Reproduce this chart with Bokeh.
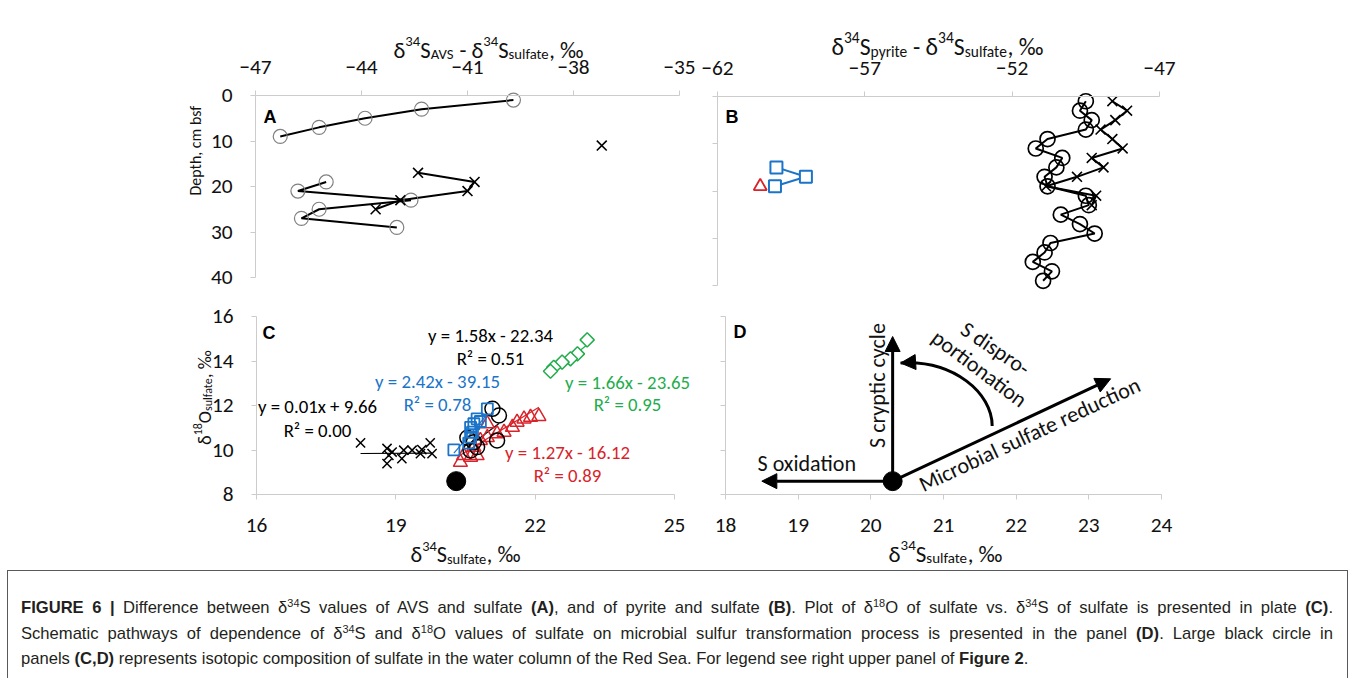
import glob, math, os, struct
from bokeh.embed import file_html
from bokeh.layouts import column, row
from bokeh.models import Arrow, Div, FixedTicker, Label, NormalHead, Range1d
from bokeh.plotting import figure
from bokeh.resources import INLINE

NAN = float("nan")

# ---------------- data ----------------
# Panel A : d34S(AVS) - d34S(sulfate) vs depth
a_circle_depth = [1, 3, 5, 7, 9, 11, 13, 15, 17, 19, 21, 23, 25, 27, 29]
a_circle_diff = [-39.7, -42.3, -43.9, -45.2, -46.3, NAN, NAN, NAN, NAN,
                 -45.0, -45.8, -42.6, -45.2, -45.7, -43.0]
a_cross_depth = [11, 13, 15, 17, 19, 21, 23, 25]
a_cross_diff = [-37.2, NAN, NAN, -42.4, -40.8, -41.0, -42.9, -43.6]

# Panel B : d34S(pyrite) - d34S(sulfate) vs depth
b_circle_depth = [1, 3, 5, 7, 9, 11, 13, 15, 17, 19, 21, 23, 25, 27, 29, 31, 33, 35, 37, 39]
b_circle_diff = [-49.5, -49.7, -49.3, -49.5, -50.8, -51.2, -50.3, -50.5, -50.9, -50.8,
                 -49.5, -49.4, -50.35, -49.7, -49.2, -50.7, -50.9, -51.3, -50.65, -50.95]
b_cross_depth = [1, 3, 5, 7, 9, 11, 13, 15, 17, 19, 21, 23]
b_cross_diff = [-48.6, -48.1, -48.5, -49.0, -48.6, -48.25, -49.3, -48.9, -49.8, -50.85, -49.15, -49.3]
b_square_depth = [15, 17, 19]
b_square_diff = [-60.0, -59.0, -60.05]
b_triangle_depth = [19]
b_triangle_diff = [-60.55]

# Panel C : d18O(sulfate) vs d34S(sulfate)
c_cross_s = [18.24, 18.81, 18.85, 18.81, 18.92, 19.17, 19.13, 19.35, 19.56, 19.53, 19.74, 19.78]
c_cross_o = [10.32, 10.07, 9.76, 9.39, 9.91, 9.99, 9.61, 9.99, 10.02, 9.84, 10.32, 9.84]
c_circle_s = [21.08, 21.22, 21.18, 20.54, 20.68, 20.75, 20.61]
c_circle_o = [11.85, 11.55, 10.43, 10.55, 10.35, 10.13, 9.98]
c_square_s = [20.97, 20.75, 20.68, 20.61, 20.65, 20.61, 20.25, 20.57, 20.82]
c_square_o = [11.85, 11.40, 11.18, 11.02, 10.80, 10.58, 10.01, 10.31, 11.28]
c_triangle_s = [22.08, 21.90, 21.76, 21.61, 21.51, 21.33, 21.18, 20.97, 20.82, 20.68,
                20.75, 20.61, 20.39, 20.46, 20.97]
c_triangle_o = [11.51, 11.47, 11.40, 11.25, 11.02, 10.80, 10.73, 11.18, 10.43, 10.13,
                9.75, 9.68, 9.45, 9.75, 10.56]
c_diamond_s = [23.12, 22.91, 22.76, 22.58, 22.40, 22.33]
c_diamond_o = [14.95, 14.32, 14.10, 13.95, 13.72, 13.54]
seawater_s = [20.3]
seawater_o = [8.6]

# linear fits shown in panel C (cross, circle, square, triangle, diamond)
fit_slope = [0.01, 1.58, 2.42, 1.27, 1.66]
fit_icpt = [9.66, -22.34, -39.15, -16.12, -23.65]
fit_r2 = [0.00, 0.51, 0.78, 0.89, 0.95]

# Panel D : schematic pathways (d34S, d18O)
d_origin = (20.3, 8.6)
d_oxidation_tip = (18.5, 8.6)
d_cryptic_tip = (20.3, 15.1)
d_msr_tip = (23.3, 13.2)
d_disp_curve = dict(x0=21.67, y0=11.08, cx0=21.67, cy0=12.56, cx1=21.14, cy1=14.06, x1=20.41, y1=13.91)

# axis extents and ticks
a_xlim, b_xlim, depth_lim = (-47, -35), (-62, -47), (0, 40)
c_xlim, d_xlim, o_lim = (16, 25), (18, 24), (8, 16)
a_xticks = [-47, -44, -41, -38, -35]
b_xticks = [-62, -57, -52, -47]
depth_ticks = [0, 10, 20, 30, 40]
c_xticks = [16, 19, 22, 25]
o_ticks = [8, 10, 12, 14, 16]
d_xticks = [18, 19, 20, 21, 22, 23, 24]

caption_lines = [
    '<b>FIGURE 6 |</b> Difference between &delta;<sup>34</sup>S values of AVS and sulfate <b>(A)</b>, '
    'and of pyrite and sulfate <b>(B)</b>. Plot of &delta;<sup>18</sup>O of sulfate vs. &delta;<sup>34</sup>S '
    'of sulfate is presented in plate <b>(C)</b>.',
    'Schematic pathways of dependence of &delta;<sup>34</sup>S and &delta;<sup>18</sup>O values of sulfate on '
    'microbial sulfur transformation process is presented in the panel <b>(D)</b>. Large black circle in',
    'panels <b>(C,D)</b> represents isotopic composition of sulfate in the water column of the Red Sea. '
    'For legend see right upper panel of <b>Figure 2</b>.',
]

# ---------------- fonts & metrics ----------------
def _find(patterns):
    dirs = ["/usr/share/fonts", "/usr/local/share/fonts",
            os.path.expanduser("~/.fonts"), os.path.expanduser("~/.local/share/fonts")]
    for pat in patterns:
        for d in dirs:
            hits = glob.glob(os.path.join(d, "**", pat), recursive=True)
            if hits:
                return sorted(hits)[0]
    return None


def _ttf(path):
    data = open(path, "rb").read()
    off0 = struct.unpack(">I", data[12:16])[0] if data[:4] == b"ttcf" else 0
    num = struct.unpack(">H", data[off0 + 4:off0 + 6])[0]
    tables = {}
    for i in range(num):
        rec = off0 + 12 + 16 * i
        tag, _, off, _ln = struct.unpack(">4sIII", data[rec:rec + 16])
        tables[tag] = off
    head = tables[b"head"]
    upem = struct.unpack(">H", data[head + 18:head + 20])[0]
    hhea = tables[b"hhea"]
    nhm = struct.unpack(">H", data[hhea + 34:hhea + 36])[0]
    hmtx = tables[b"hmtx"]
    adv = [struct.unpack(">H", data[hmtx + 4 * i:hmtx + 4 * i + 2])[0] for i in range(nhm)]
    cm = tables[b"cmap"]
    nsub = struct.unpack(">H", data[cm + 2:cm + 4])[0]
    cmap = {}
    for i in range(nsub):
        _pid, _eid, so = struct.unpack(">HHI", data[cm + 4 + 8 * i:cm + 12 + 8 * i])
        sub = cm + so
        if struct.unpack(">H", data[sub:sub + 2])[0] != 4:
            continue
        segx2 = struct.unpack(">H", data[sub + 6:sub + 8])[0]
        seg = segx2 // 2
        ends = struct.unpack(">%dH" % seg, data[sub + 14:sub + 14 + segx2])
        starts = struct.unpack(">%dH" % seg, data[sub + 16 + segx2:sub + 16 + 2 * segx2])
        deltas = struct.unpack(">%dh" % seg, data[sub + 16 + 2 * segx2:sub + 16 + 3 * segx2])
        ro_pos = sub + 16 + 3 * segx2
        ros = struct.unpack(">%dH" % seg, data[ro_pos:ro_pos + segx2])
        for s in range(seg):
            if starts[s] == 0xFFFF:
                continue
            for c in range(starts[s], min(ends[s], 0x3000) + 1):
                if ros[s] == 0:
                    g = (c + deltas[s]) & 0xFFFF
                else:
                    gp = ro_pos + 2 * s + ros[s] + 2 * (c - starts[s])
                    g = struct.unpack(">H", data[gp:gp + 2])[0]
                    if g:
                        g = (g + deltas[s]) & 0xFFFF
                cmap.setdefault(c, g)
        break
    return upem, adv, cmap


FONT = "Lato"
METRICS = None
for fam, pats in [("Carlito", ["Carlito-Regular.ttf"]),
                  ("Lato", ["Lato-Regular.ttf", "Lato-Reg*.ttf"]),
                  ("Open Sans", ["OpenSans-Regular.ttf", "OpenSans*.ttf"])]:
    fp = _find(pats)
    if fp:
        try:
            METRICS = _ttf(fp)
            FONT = fam
            break
        except Exception:
            METRICS = None


def tw(text, size):
    if METRICS is None:
        return 0.52 * size * len(text)
    upem, adv, cmap = METRICS
    tot = 0
    for ch in text:
        g = cmap.get(ord(ch))
        tot += adv[min(g, len(adv) - 1)] if g is not None else 0.55 * upem
    return tot / upem * size


def fit_size(text, target):
    return target / tw(text, 1.0)


SMALL = 0.65
TICK_PX = 0.5 * (fit_size("16", 21) + fit_size("-44", 29))
ANN_PX = fit_size("y = 1.58x - 22.34", 125)
D_PX = fit_size("Microbial sulfate reduction", 243)

AX = "#cccccc"
TXT = "#111111"
BLUE = "#1b74c8"
RED = "#d8232a"
GREEN = "#22ad4c"
GRAY = "#808080"


class Frame:
    """linear map from page pixels to the data units of one panel"""
    def __init__(s, left, top, w, h, x0, x1, ytop, ybot):
        s.left, s.top, s.w, s.h = left, top, w, h
        s.x0, s.x1, s.ytop, s.ybot = x0, x1, ytop, ybot

    def x(s, px):
        return s.x0 + (px - s.left) / s.w * (s.x1 - s.x0)

    def y(s, py):
        return s.ytop + (py - s.top) / s.h * (s.ybot - s.ytop)


def panel(cx0, cx1, cy0, cy1, m, xloc, xlim, ylim, xticks, yticks, ylabels=True,
          xstand=17, ystand=18):
    """figure whose plotting area is the whole canvas; axes are pinned at the data edges"""
    p = figure(width=cx1 - cx0, height=cy1 - cy0,
               x_range=Range1d(m.x(cx0), m.x(cx1)), y_range=Range1d(m.y(cy1), m.y(cy0)),
               output_backend="svg", toolbar_location=None, x_axis_location=xloc, title=None,
               min_border=0)
    p.xgrid.visible = False
    p.ygrid.visible = False
    p.outline_line_color = None
    p.background_fill_color = None
    p.border_fill_color = None
    xa, ya = p.xaxis[0], p.yaxis[0]
    if xloc == "above":
        xa.fixed_location = min(ylim) if m.ytop < m.ybot else max(ylim)
    else:
        xa.fixed_location = max(ylim) if m.ytop < m.ybot else min(ylim)
    ya.fixed_location = xlim[0]
    xa.bounds = tuple(xlim)
    ya.bounds = (min(ylim), max(ylim))
    for ax, ticks, stand, lab in ((xa, xticks, xstand, True), (ya, yticks, ystand, ylabels)):
        ax.axis_line_color = AX
        ax.axis_line_width = 1
        ax.major_tick_line_color = AX
        ax.minor_tick_line_color = None
        ax.major_tick_in = 0
        ax.major_tick_out = 5
        ax.major_label_text_font = FONT
        ax.major_label_text_font_size = "%.2fpx" % TICK_PX
        ax.major_label_text_color = TXT
        ax.ticker = FixedTicker(ticks=ticks)
        ax.major_label_standoff = stand
        if not lab:
            ax.major_label_overrides = {t: "" for t in ticks}
    return p


def label(p, x, y, text, size, color=TXT, align="left", baseline="alphabetic", angle=0.0,
          font=None, style="normal"):
    p.add_layout(Label(x=x, y=y, text=text, text_font=font or FONT, text_font_size="%.2fpx" % size,
                       text_color=color, text_align=align, text_baseline=baseline, angle=angle,
                       text_font_style=style))


def rich(p, m, pieces, cx, base_y, target_w, color=TXT, angle=0.0):
    unit = sum(tw(t, 1.0 if r == "n" else SMALL) for t, r in pieces)
    size = target_w / unit
    pos = -target_w / 2.0
    ca, sa = math.cos(angle), math.sin(angle)
    for t, r in pieces:
        fs = size if r == "n" else size * SMALL
        core = t.strip(" ")
        lead = len(t) - len(t.lstrip(" "))
        trail = len(t) - lead - len(core)
        pos += tw(" " * lead, fs)
        rise = {"n": 0.0, "sup": 0.36 * size, "sub": -0.2 * size}[r]
        dx = pos * ca - rise * sa
        dy = pos * sa + rise * ca
        label(p, m.x(cx + dx), m.y(base_y - dy), core, fs, color=color, angle=angle)
        pos += tw(core, fs) + tw(" " * trail, fs)


def letter(p, m, px, py, t):
    label(p, m.x(px), m.y(py), t, 18, font="Liberation Sans", style="bold", color="black")


# ---------------- Panel A ----------------
mA = Frame(255, 95, 424, 182, a_xlim[0], a_xlim[1], depth_lim[0], depth_lim[1])
pA = panel(0, 698, 0, 300, mA, "above", a_xlim, depth_lim, a_xticks, depth_ticks)
pA.line(a_circle_diff, a_circle_depth, line_color="black", line_width=2)
pA.line(a_cross_diff, a_cross_depth, line_color="black", line_width=2)
pA.scatter(a_circle_diff, a_circle_depth, marker="circle", size=14, line_color=GRAY,
           fill_color=None, line_width=1.2)
pA.scatter(a_cross_diff, a_cross_depth, marker="x", size=14, line_color="black", line_width=1.6)
rich(pA, mA, [("δ", "n"), ("34", "sup"), ("S", "n"), ("AVS", "sub"), (" - δ", "n"), ("34", "sup"),
              ("S", "n"), ("sulfate", "sub"), (", ‰", "n")], 488, 49, 190)
rich(pA, mA, [("Depth, cm bsf", "n")], 195, 150, 90, angle=math.pi / 2)
letter(pA, mA, 263, 116, "A")

# ---------------- Panel B ----------------
mB = Frame(717, 96, 442, 189, b_xlim[0], b_xlim[1], depth_lim[0], depth_lim[1])
pB = panel(698, 1189, 0, 300, mB, "above", b_xlim, depth_lim, b_xticks, depth_ticks, ylabels=False)
pB.line(b_circle_diff, b_circle_depth, line_color="black", line_width=2)
pB.line(b_cross_diff, b_cross_depth, line_color="black", line_width=2)
pB.line(b_square_diff, b_square_depth, line_color=BLUE, line_width=2)
pB.scatter(b_circle_diff, b_circle_depth, marker="circle", size=15, line_color="black",
           fill_color=None, line_width=1.7)
pB.scatter(b_cross_diff, b_cross_depth, marker="x", size=14, line_color="black", line_width=1.6)
pB.scatter(b_square_diff, b_square_depth, marker="square", size=12, line_color=BLUE,
           fill_color="white", line_width=2)
pB.scatter(b_triangle_diff, b_triangle_depth, marker="triangle", size=13, line_color=RED,
           fill_color="white", line_width=1.8)
rich(pB, mB, [("δ", "n"), ("34", "sup"), ("S", "n"), ("pyrite", "sub"), (" - δ", "n"), ("34", "sup"),
              ("S", "n"), ("sulfate", "sub"), (", ‰", "n")], 937, 46, 212)
letter(pB, mB, 725, 116, "B")

# ---------------- Panel C ----------------
mC = Frame(256, 316, 418, 178, c_xlim[0], c_xlim[1], o_lim[1], o_lim[0])
pC = panel(0, 709, 300, 570, mC, "below", c_xlim, o_lim, c_xticks, o_ticks, xstand=19)

series_c = [(c_cross_s, c_cross_o, "black"), (c_circle_s, c_circle_o, "black"),
            (c_square_s, c_square_o, BLUE), (c_triangle_s, c_triangle_o, RED),
            (c_diamond_s, c_diamond_o, GREEN)]
for (xs, ys, col), m, b in zip(series_c, fit_slope, fit_icpt):
    lo, hi = min(xs), max(xs)
    pC.line([lo, hi], [m * lo + b, m * hi + b], line_color=col, line_width=1.2)

pC.scatter(c_cross_s, c_cross_o, marker="x", size=13, line_color="black", line_width=1.5)
pC.scatter(c_triangle_s, c_triangle_o, marker="triangle", size=14, line_color=RED,
           fill_color=None, line_width=1.5)
pC.scatter(c_circle_s, c_circle_o, marker="circle", size=15, line_color="black",
           fill_color=None, line_width=1.5)
pC.scatter(c_square_s, c_square_o, marker="square", size=11, line_color=BLUE,
           fill_color=None, line_width=1.8)
pC.scatter(c_diamond_s, c_diamond_o, marker="square", angle=math.pi / 4, size=10, line_color=GREEN,
           fill_color="white", line_width=1.5)
pC.scatter(seawater_s, seawater_o, marker="circle", size=19, line_color="black", fill_color="black")

fit_text_pos = [(317, 406, 430), (490, 335, 358), (437, 381, 404), (567, 452, 475), (627, 382, 404)]
fit_colors = ["black", "black", BLUE, RED, GREEN]
for (px, py1, py2), m, b, r2, col in zip(fit_text_pos, fit_slope, fit_icpt, fit_r2, fit_colors):
    eq = "y = %.2fx %s %.2f" % (m, "+" if b >= 0 else "-", abs(b))
    label(pC, mC.x(px), mC.y(py1), eq, ANN_PX, color=col, align="center", baseline="middle")
    label(pC, mC.x(px), mC.y(py2), "R² = %.2f" % r2, ANN_PX, color=col, align="center", baseline="middle")

rich(pC, mC, [("δ", "n"), ("34", "sup"), ("S", "n"), ("sulfate", "sub"), (", ‰", "n")], 465, 554, 110)
rich(pC, mC, [("δ", "n"), ("18", "sup"), ("O", "n"), ("sulfate", "sub"), (", ‰", "n")], 204, 397, 95,
     angle=math.pi / 2)
letter(pC, mC, 262, 332, "C")

# ---------------- Panel D ----------------
mD = Frame(725, 316, 436, 178, d_xlim[0], d_xlim[1], o_lim[1], o_lim[0])
pD = panel(709, 1189, 300, 570, mD, "below", d_xlim, o_lim, d_xticks, o_ticks, ylabels=False, xstand=19)

for tip in (d_oxidation_tip, d_cryptic_tip, d_msr_tip):
    pD.add_layout(Arrow(end=NormalHead(size=15, fill_color="black", line_color="black", line_width=1),
                        x_start=d_origin[0], y_start=d_origin[1], x_end=tip[0], y_end=tip[1],
                        line_width=3, line_color="black"))
cv = d_disp_curve
pD.bezier(x0=[cv["x0"]], y0=[cv["y0"]], x1=[cv["x1"]], y1=[cv["y1"]], cx0=[cv["cx0"]], cy0=[cv["cy0"]],
          cx1=[cv["cx1"]], cy1=[cv["cy1"]], line_width=3, line_color="black")
hx = cv["x1"] + 0.1 * (cv["cx1"] - cv["x1"])
hy = cv["y1"] + 0.1 * (cv["cy1"] - cv["y1"])
pD.add_layout(Arrow(end=NormalHead(size=15, fill_color="black", line_color="black", line_width=1),
                    x_start=hx, y_start=hy, x_end=cv["x1"], y_end=cv["y1"], line_width=3,
                    line_color="black"))
pD.scatter([d_origin[0]], [d_origin[1]], marker="circle", size=19, line_color="black", fill_color="black")

label(pD, mD.x(757), mD.y(463), "S oxidation", D_PX)
label(pD, mD.x(877), mD.y(385), "S cryptic cycle", D_PX, align="center", angle=math.pi / 2)
label(pD, mD.x(995), mD.y(348), "S dispro-", D_PX, align="center", baseline="middle",
      angle=-math.radians(34))
label(pD, mD.x(979), mD.y(368), "portionation", D_PX, align="center", baseline="middle",
      angle=-math.radians(37))
label(pD, mD.x(1029), mD.y(434), "Microbial sulfate reduction", D_PX, align="center", baseline="middle",
      angle=math.radians(25))
rich(pD, mD, [("δ", "n"), ("34", "sup"), ("S", "n"), ("sulfate", "sub"), (", ‰", "n")], 945, 553, 114)
letter(pD, mD, 733, 331, "D")

# ---------------- caption ----------------
sup_style = '<sup style="font-size:0.66em;line-height:0;vertical-align:0.55em">'
just = 'text-align:justify;text-align-last:justify;'
rows_html = []
for i, l in enumerate(caption_lines):
    align = just if i < len(caption_lines) - 1 else "text-align:left;"
    rows_html.append('<div style="%swidth:1312px;height:25.5px;overflow:hidden">%s</div>'
                     % (align, l.replace("<sup>", sup_style)))
cap_html = ('<div style="box-sizing:border-box;margin-left:7px;width:1341px;height:108px;'
            'border:1px solid #58595b;border-bottom:none;padding:24px 0 0 13px;'
            'font-family:\'Liberation Sans\',Arial,sans-serif;font-size:16.6px;line-height:25.5px;'
            'color:#231f20;overflow:hidden">' + "".join(rows_html) + '</div>')
cap = Div(text=cap_html, width=1350, height=108, margin=(0, 0, 0, 0))

layout = column(row(pA, pB), row(pC, pD), cap)
open("out.html", "w").write(file_html(layout, INLINE))
